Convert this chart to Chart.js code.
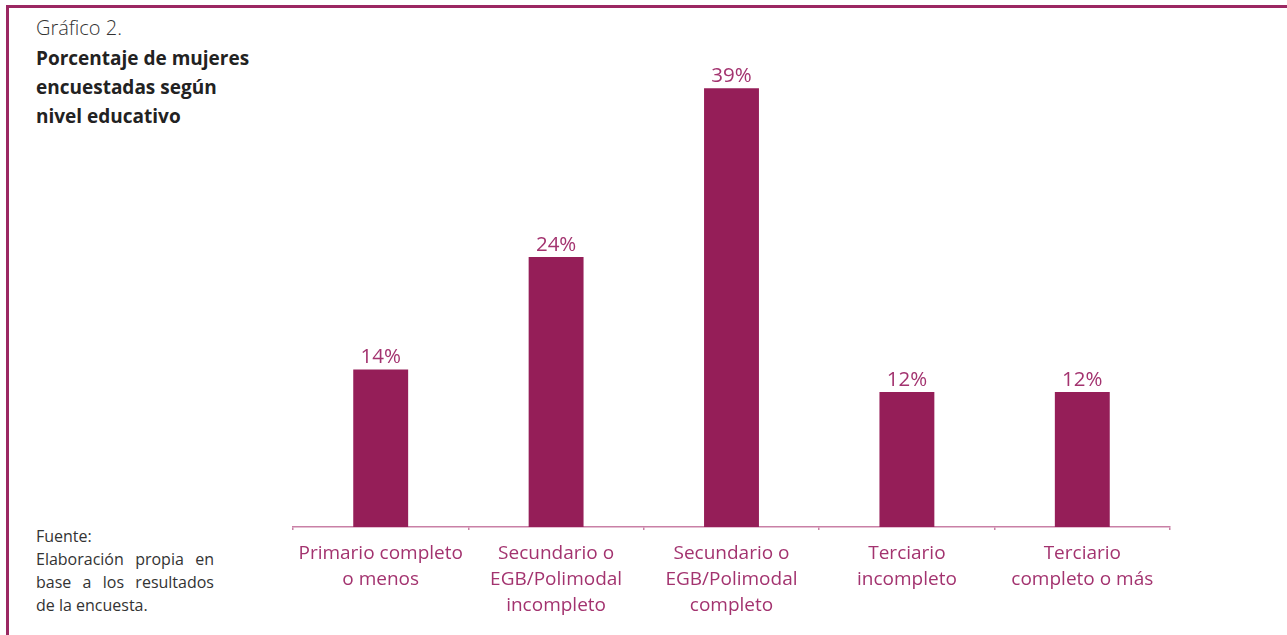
<!DOCTYPE html>
<html>
<head>
<meta charset="utf-8">
<script src="https://cdn.jsdelivr.net/npm/chart.js@4.4.1/dist/chart.umd.min.js"></script>
<style>
  html, body { margin: 0; padding: 0; background: #fff; }
  #wrap { position: relative; width: 1287px; height: 635px; overflow: hidden; font-family: "Open Sans", sans-serif; }
  #frame { position: absolute; left: 6px; top: 5px; right: -10px; bottom: -10px; border-top: 3px solid #9b2862; border-left: 3px solid #9b2862; }
  #kicker { position: absolute; left: 36px; top: 14px; font-size: 20px; font-weight: 300; color: #333; }
  #title { position: absolute; left: 36px; top: 44px; font-size: 19px; font-weight: 700; line-height: 29px; color: #222; }
  #source { position: absolute; left: 36px; top: 525px; width: 178px; font-size: 16px; line-height: 23px; color: #333; }
  #source .j { text-align: justify; text-align-last: justify; }
  canvas { position: absolute; left: 0; top: 0; }
</style>
</head>
<body>
<div id="wrap">
  <div id="frame"></div>
  <div id="kicker">Gráfico 2.</div>
  <div id="title">Porcentaje de mujeres<br>encuestadas según<br>nivel educativo</div>
  <div id="source">Fuente:<br><div class="j">Elaboración propia en</div><div class="j">base a los resultados</div>de la encuesta.</div>
  <canvas id="chart" width="1287" height="635"></canvas>
</div>
<script>
(function(){

    // data
    var categories = [
        ["Primario completo", "o menos"],
        ["Secundario o", "EGB/Polimodal", "incompleto"],
        ["Secundario o", "EGB/Polimodal", "completo"],
        ["Terciario", "incompleto"],
        ["Terciario", "completo o más"]
    ];
    var percentages = [14, 24, 39, 12, 12];
    var yMax = 40;

    var BAR = "#951e58";
    var LABEL = "#a3336f";
    var AXIS = "#c980a6";

    // value labels above each bar
    var valueLabels = {
        id: "valueLabels",
        afterDatasetsDraw: function(chart){
            let ctx = chart.ctx;
            let meta = chart.getDatasetMeta(0);
            ctx.save();
            ctx.font = "20.5px 'Open Sans'";
            ctx.fillStyle = LABEL;
            ctx.textAlign = "center";
            ctx.textBaseline = "bottom";
            meta.data.forEach(function(bar, i){
                ctx.fillText(percentages[i] + "%", bar.x, bar.y - 2);
            });
            ctx.restore();
        }
    };

    function _drawChart(){
        new Chart(document.getElementById("chart").getContext("2d"), {
            type: "bar",
            data: {
                labels: categories,
                datasets: [{
                    data: percentages,
                    backgroundColor: BAR,
                    borderWidth: 0,
                    barPercentage: 0.313,
                    categoryPercentage: 1
                }]
            },
            options: {
                responsive: false,
                animation: false,
                events: [],
                layout: { padding: { left: 293, right: 117, top: 77, bottom: 0 } },
                plugins: { legend: { display: false }, tooltip: { enabled: false } },
                scales: {
                    y: { display: false, min: 0, max: yMax },
                    x: {
                        afterFit: function(scale){ scale.height = 108; },
                        border: { color: AXIS, width: 1.5 },
                        grid: { drawOnChartArea: false, color: AXIS, tickLength: 3, lineWidth: 1.5 },
                        ticks: {
                            color: LABEL,
                            padding: 11,
                            maxRotation: 0,
                            autoSkip: false,
                            font: { family: "'Open Sans'", size: 19, lineHeight: 1.35 }
                        }
                    }
                }
            },
            plugins: [valueLabels]
        });
    }

    window.onload = function(){
        _drawChart();
    };

})();
</script>
</body>
</html>
